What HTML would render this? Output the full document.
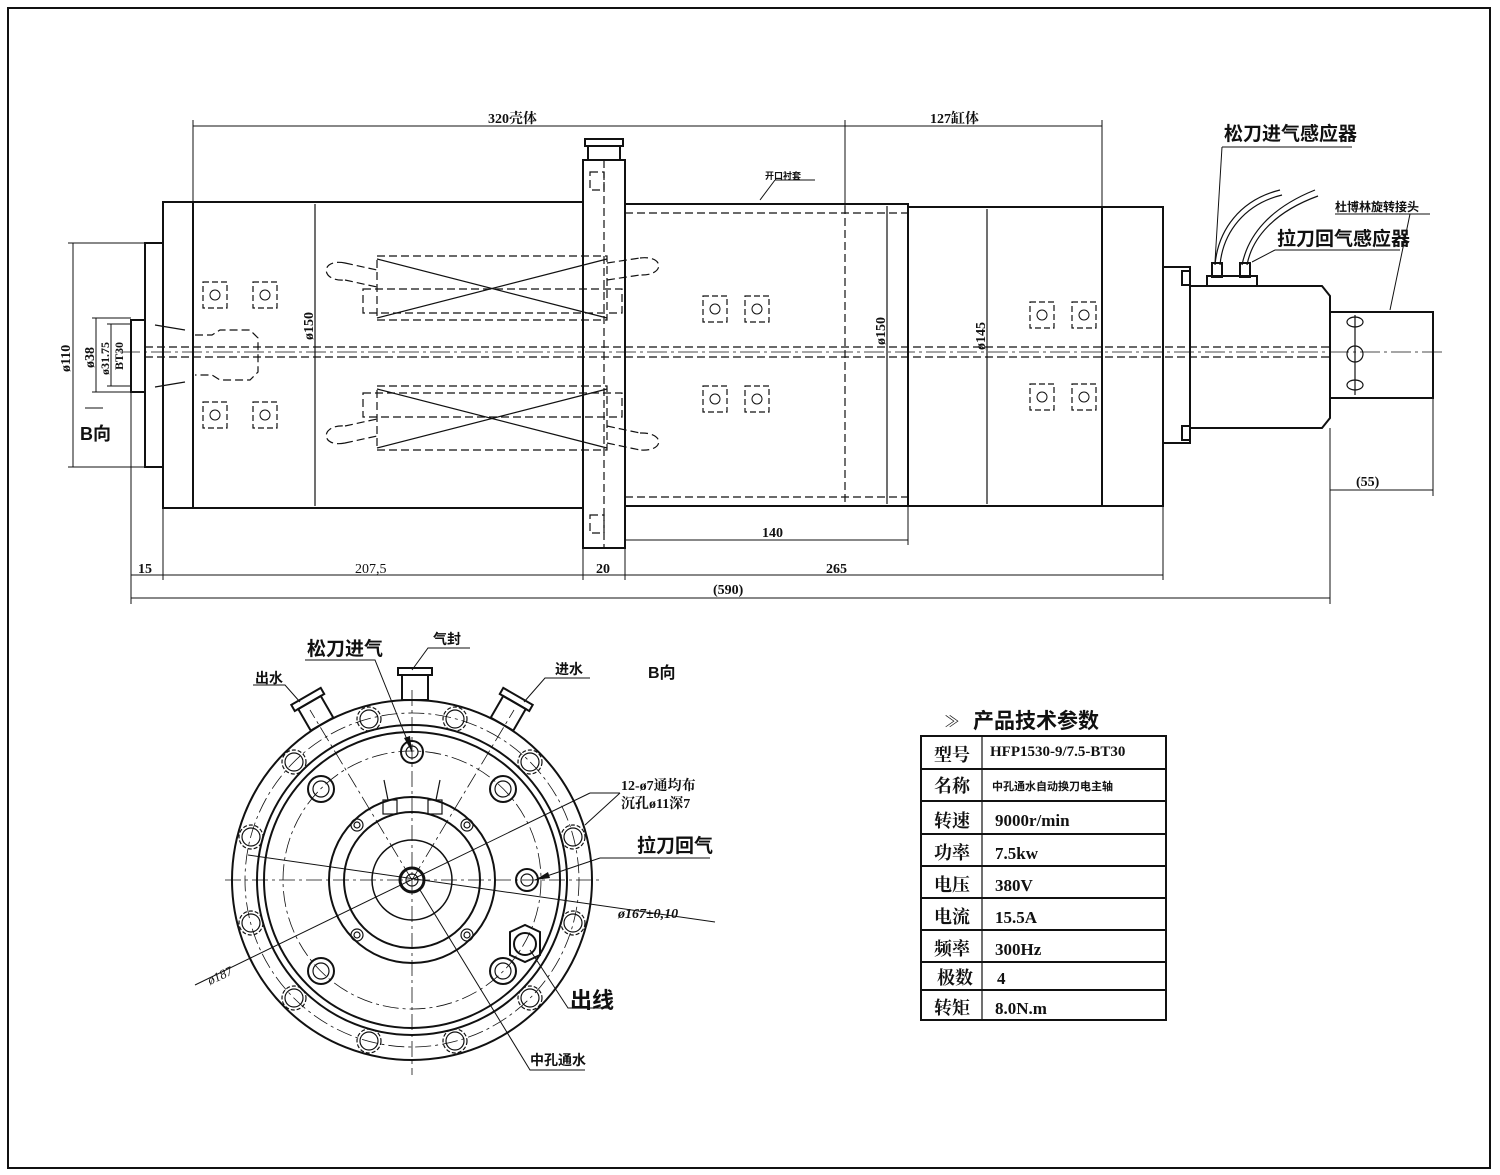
<!DOCTYPE html>
<html><head><meta charset="utf-8"><style>
html,body{margin:0;padding:0;background:#fff}
svg{display:block}
text{font-family:"Liberation Serif","Noto Serif CJK SC",serif;fill:#111}
.s{font-family:"Liberation Sans","Noto Sans CJK SC",sans-serif;font-weight:bold}
.d{font-weight:bold}
</style></head><body>
<svg width="1500" height="1175" viewBox="0 0 1500 1175" xmlns="http://www.w3.org/2000/svg" fill="none" stroke="#111">
<rect x="8" y="8" width="1482" height="1160" stroke-width="2"/>

<!-- ===== MAIN VIEW ===== -->
<g stroke-width="2">
<rect x="131" y="320" width="14" height="72"/>
<rect x="145" y="243" width="18" height="224"/>
<rect x="163" y="202" width="420" height="306"/>
<line x1="193" y1="202" x2="193" y2="508"/>
<rect x="583" y="160" width="42" height="388"/>
<rect x="588" y="146" width="32" height="14"/>
<rect x="585" y="139" width="38" height="7"/>
<rect x="625" y="204" width="283" height="302"/>
<rect x="908" y="207" width="255" height="299"/>
<line x1="1102" y1="207" x2="1102" y2="506"/>
<rect x="1163" y="267" width="27" height="176"/>
<rect x="1182" y="271" width="8" height="14"/>
<rect x="1182" y="426" width="8" height="14"/>
<path d="M1190 286 H1322 L1330 296 V418 L1322 428 H1190 Z"/>
<rect x="1330" y="312" width="103" height="86"/>
<rect x="1207" y="276" width="50" height="10"/>
<rect x="1212" y="263" width="10" height="14"/><rect x="1240" y="263" width="10" height="14"/>
</g>
<g stroke-width="1.2">
<line x1="315" y1="204" x2="315" y2="506"/>
<line x1="887" y1="206" x2="887" y2="504"/>
<line x1="987" y1="209" x2="987" y2="504"/>
<line x1="1355" y1="315" x2="1355" y2="395"/>
<ellipse cx="1355" cy="322" rx="8" ry="5"/><ellipse cx="1355" cy="385" rx="8" ry="5"/><circle cx="1355" cy="354" r="8"/>
<path d="M1215 265 C1218 230 1240 200 1280 190"/><path d="M1220 265 C1223 232 1245 204 1282 195"/>
<path d="M1242 265 C1248 235 1270 208 1315 190"/><path d="M1247 265 C1252 238 1274 212 1318 196"/>
</g>
<g stroke-width="1.2" stroke-dasharray="8 4">
<line x1="625" y1="213" x2="908" y2="213"/><line x1="625" y1="497" x2="908" y2="497"/>
<line x1="845" y1="206" x2="845" y2="506"/>
<line x1="604" y1="160" x2="604" y2="548"/>
<line x1="145" y1="347" x2="1330" y2="347"/><line x1="145" y1="357" x2="1330" y2="357"/>
<rect x="377" y="256" width="230" height="64"/><rect x="363" y="289" width="259" height="24"/>
<rect x="377" y="386" width="230" height="64"/><rect x="363" y="393" width="259" height="24"/>
<path d="M345 263 L377 270 M345 280 L377 287 M345 263 C320 258 320 282 345 280"/>
<path d="M345 426 L377 419 M345 443 L377 436 M345 443 C320 448 320 424 345 426"/>
<path d="M607 263 L640 258 M607 280 L640 275 M640 258 C665 255 665 276 640 275"/>
<path d="M607 426 L640 433 M607 443 L640 450 M640 433 C665 432 665 452 640 450"/>
<path d="M195 335 H212 L220 330 H250 L258 338 V372 L250 380 H220 L212 375 H195"/>
<rect x="590" y="172" width="14" height="18"/><rect x="590" y="515" width="14" height="18"/>
</g>
<g stroke-width="1.2">
<path d="M377 259 L607 318 M377 318 L607 259 M377 389 L607 448 M377 448 L607 389"/>
<path d="M155 325 L185 330 M155 387 L185 382"/>
</g>
<g stroke-width="1.2" stroke-dasharray="6 3">
<rect x="203" y="282" width="24" height="26"/><rect x="253" y="282" width="24" height="26"/>
<rect x="203" y="402" width="24" height="26"/><rect x="253" y="402" width="24" height="26"/>
<rect x="703" y="296" width="24" height="26"/><rect x="745" y="296" width="24" height="26"/>
<rect x="703" y="386" width="24" height="26"/><rect x="745" y="386" width="24" height="26"/>
<rect x="1030" y="302" width="24" height="26"/><rect x="1072" y="302" width="24" height="26"/>
<rect x="1030" y="384" width="24" height="26"/><rect x="1072" y="384" width="24" height="26"/>
</g>
<g stroke-width="1"><circle cx="215" cy="295" r="5"/><circle cx="265" cy="295" r="5"/><circle cx="215" cy="415" r="5"/><circle cx="265" cy="415" r="5"/>
<circle cx="715" cy="309" r="5"/><circle cx="757" cy="309" r="5"/><circle cx="715" cy="399" r="5"/><circle cx="757" cy="399" r="5"/>
<circle cx="1042" cy="315" r="5"/><circle cx="1084" cy="315" r="5"/><circle cx="1042" cy="397" r="5"/><circle cx="1084" cy="397" r="5"/></g>
<line x1="120" y1="352" x2="1445" y2="352" stroke-width="0.8" stroke-dasharray="20 4 3 4"/>

<g stroke-width="1">
<line x1="193" y1="126" x2="1102" y2="126"/>
<line x1="193" y1="120" x2="193" y2="202"/><line x1="845" y1="120" x2="845" y2="206"/><line x1="1102" y1="120" x2="1102" y2="207"/>
<line x1="131" y1="392" x2="131" y2="604"/><line x1="163" y1="508" x2="163" y2="580"/><line x1="583" y1="548" x2="583" y2="580"/><line x1="625" y1="548" x2="625" y2="580"/><line x1="1163" y1="506" x2="1163" y2="580"/><line x1="1330" y1="428" x2="1330" y2="604"/><line x1="1433" y1="398" x2="1433" y2="496"/>
<line x1="131" y1="575" x2="1163" y2="575"/>
<line x1="131" y1="598" x2="1330" y2="598"/>
<line x1="625" y1="540" x2="908" y2="540"/><line x1="908" y1="506" x2="908" y2="545"/>
<line x1="1330" y1="490" x2="1433" y2="490"/>
<line x1="73" y1="243" x2="73" y2="467"/><line x1="68" y1="243" x2="145" y2="243"/><line x1="68" y1="467" x2="145" y2="467"/>
<line x1="96" y1="318" x2="96" y2="392"/><line x1="92" y1="318" x2="131" y2="318"/><line x1="92" y1="392" x2="131" y2="392"/>
<line x1="111" y1="324" x2="111" y2="386"/><line x1="107" y1="324" x2="131" y2="324"/><line x1="107" y1="386" x2="131" y2="386"/>
<line x1="85" y1="408" x2="103" y2="408"/>
<line x1="760" y1="200" x2="775" y2="180"/><line x1="775" y1="180" x2="815" y2="180"/>
<path d="M1222 147 H1352 M1222 147 L1215 262"/>
<path d="M1275 250 H1400 M1275 250 L1252 262"/>
<path d="M1335 214 H1430 M1410 214 L1390 310"/>
</g>
<g stroke="none" font-size="14" class="d">
<text x="488" y="123">320壳体</text>
<text x="930" y="123">127缸体</text>
<text x="138" y="573">15</text><text x="355" y="573" fill="#666" font-weight="normal">207,5</text>
<text x="596" y="573">20</text><text x="826" y="573">265</text>
<text x="762" y="537">140</text><text x="713" y="594">(590)</text><text x="1356" y="486">(55)</text>
<text x="765" y="179" font-size="9" class="s">开口衬套</text>
<text transform="translate(313,340) rotate(-90)">ø150</text>
<text transform="translate(885,345) rotate(-90)">ø150</text>
<text transform="translate(985,350) rotate(-90)">ø145</text>
<text transform="translate(70,372) rotate(-90)">ø110</text>
<text transform="translate(94,368) rotate(-90)">ø38</text>
<text transform="translate(109,375) rotate(-90)" font-size="12">ø31.75</text>
<text transform="translate(123,370) rotate(-90)" font-size="12">BT30</text>
<text x="80" y="440" font-size="18" class="s">B向</text>
<text x="1224" y="140" font-size="19" class="s">松刀进气感应器</text>
<text x="1277" y="245" font-size="19" class="s">拉刀回气感应器</text>
<text x="1335" y="211" font-size="12" class="s">杜博林旋转接头</text>
</g>

<!-- ===== B VIEW ===== -->
<g stroke-width="2">
<circle cx="412" cy="880" r="180"/>
<circle cx="412" cy="880" r="155"/>
<circle cx="412" cy="880" r="148"/>
<circle cx="412" cy="880" r="83"/>
<circle cx="412" cy="880" r="68"/>
<circle cx="412" cy="880" r="40" stroke-width="1.5"/>
<circle cx="412" cy="880" r="12" stroke-width="3"/>
<rect x="402" y="675" width="26" height="25"/><rect x="398" y="668" width="34" height="7"/>
<g transform="rotate(-30 412 880)"><rect x="399" y="675" width="26" height="25"/><rect x="395" y="668" width="34" height="7"/></g>
<g transform="rotate(30 412 880)"><rect x="399" y="675" width="26" height="25"/><rect x="395" y="668" width="34" height="7"/></g>
<polygon points="510,932 525,925 540,932 540,955 525,962 510,955"/>
<circle cx="525" cy="944" r="11"/>
<circle cx="412" cy="752" r="11"/><circle cx="527" cy="880" r="11"/>
</g>
<g stroke-width="1.2">
<circle cx="412" cy="752" r="6"/><circle cx="527" cy="880" r="6"/><circle cx="412" cy="880" r="6"/>
<rect x="383" y="800" width="14" height="14"/><rect x="428" y="800" width="14" height="14"/>
<line x1="388" y1="800" x2="384" y2="780"/><line x1="436" y1="800" x2="440" y2="780"/>
<g>
<circle cx="455" cy="719" r="9"/><circle cx="530" cy="762" r="9"/><circle cx="573" cy="837" r="9"/><circle cx="573" cy="923" r="9"/>
<circle cx="530" cy="998" r="9"/><circle cx="455" cy="1041" r="9"/><circle cx="369" cy="1041" r="9"/><circle cx="294" cy="998" r="9"/>
<circle cx="251" cy="923" r="9"/><circle cx="251" cy="837" r="9"/><circle cx="294" cy="762" r="9"/><circle cx="369" cy="719" r="9"/>
</g>
<g stroke-dasharray="4 2">
<circle cx="455" cy="719" r="12"/><circle cx="530" cy="762" r="12"/><circle cx="573" cy="837" r="12"/><circle cx="573" cy="923" r="12"/>
<circle cx="530" cy="998" r="12"/><circle cx="455" cy="1041" r="12"/><circle cx="369" cy="1041" r="12"/><circle cx="294" cy="998" r="12"/>
<circle cx="251" cy="923" r="12"/><circle cx="251" cy="837" r="12"/><circle cx="294" cy="762" r="12"/><circle cx="369" cy="719" r="12"/>
</g>
<circle cx="321" cy="789" r="8"/><circle cx="503" cy="789" r="8"/><circle cx="321" cy="971" r="8"/><circle cx="503" cy="971" r="8"/>
<circle cx="321" cy="789" r="13" stroke-width="2"/><circle cx="503" cy="789" r="13" stroke-width="2"/><circle cx="321" cy="971" r="13" stroke-width="2"/><circle cx="503" cy="971" r="13" stroke-width="2"/>
<circle cx="357" cy="825" r="6"/><circle cx="467" cy="825" r="6"/><circle cx="357" cy="935" r="6"/><circle cx="467" cy="935" r="6"/>
<circle cx="357" cy="825" r="3"/><circle cx="467" cy="825" r="3"/><circle cx="357" cy="935" r="3"/><circle cx="467" cy="935" r="3"/>
</g>
<g stroke-width="0.8" stroke-dasharray="16 4 3 4">
<circle cx="412" cy="880" r="167"/>
<circle cx="412" cy="880" r="129"/>
<line x1="225" y1="880" x2="600" y2="880"/>
<line x1="412" y1="690" x2="412" y2="1075"/>
<line x1="412" y1="880" x2="310" y2="710"/><line x1="412" y1="880" x2="514" y2="710"/>
</g>
<g stroke-width="1">
<line x1="248" y1="855" x2="715" y2="922"/>
<line x1="195" y1="985" x2="590" y2="793"/><line x1="590" y1="793" x2="620" y2="793"/>
<line x1="620" y1="793" x2="585" y2="825"/>
<line x1="535" y1="880" x2="600" y2="858"/><line x1="600" y1="858" x2="710" y2="858"/>
<path d="M412 752 L375 660 H305"/>
<path d="M412 670 L428 648 H470"/>
<path d="M300 702 L285 685 H253"/>
<path d="M524 702 L545 678 H590"/>
<path d="M530 950 L568 1008 H612"/>
<path d="M420 890 L530 1070 H585"/>
</g>
<g fill="#111" stroke="none">
<polygon points="412,752 404,738 410,736"/>
<polygon points="535,880 548,872 550,878"/>
</g>
<g stroke="none">
<text x="307" y="655" font-size="19" class="s">松刀进气</text>
<text x="433" y="644" font-size="14" class="s">气封</text>
<text x="255" y="683" font-size="14" class="s">出水</text>
<text x="555" y="674" font-size="14" class="s">进水</text>
<text x="648" y="678" font-size="16" class="s">B向</text>
<text x="621" y="790" font-size="14" class="d">12-ø7通均布</text>
<text x="621" y="808" font-size="14" class="d">沉孔ø11深7</text>
<text x="637" y="852" font-size="19" class="s">拉刀回气</text>
<text x="618" y="918" font-size="14" font-style="italic" class="d">ø167±0,10</text>
<text transform="translate(210,985) rotate(-25)" font-size="13" font-style="italic">ø187</text>
<text x="570" y="1008" font-size="22" class="s">出线</text>
<text x="530" y="1065" font-size="14" class="s">中孔通水</text>
</g>

<!-- ===== TABLE ===== -->
<g stroke-width="2">
<rect x="921" y="736" width="245" height="284"/>
<line x1="982" y1="736" x2="982" y2="1020" stroke-width="1.2"/>
<line x1="921" y1="769" x2="1166" y2="769"/><line x1="921" y1="801" x2="1166" y2="801"/>
<line x1="921" y1="834" x2="1166" y2="834"/><line x1="921" y1="866" x2="1166" y2="866"/>
<line x1="921" y1="898" x2="1166" y2="898"/><line x1="921" y1="930" x2="1166" y2="930"/>
<line x1="921" y1="962" x2="1166" y2="962"/><line x1="921" y1="990" x2="1166" y2="990"/>
</g>
<g stroke="none">
<text x="944" y="727" font-size="16">≫</text>
<text x="973" y="728" font-size="21" class="s">产品技术参数</text>
<g font-size="18" class="d">
<text x="934" y="761">型号</text><text x="934" y="792">名称</text><text x="934" y="827">转速</text>
<text x="934" y="859">功率</text><text x="934" y="891">电压</text><text x="934" y="923">电流</text>
<text x="934" y="955">频率</text><text x="937" y="984">极数</text><text x="934" y="1014">转矩</text>
</g>
<text x="990" y="756" font-size="15" class="d">HFP1530-9/7.5-BT30</text>
<text x="992" y="790" font-size="11" class="s">中孔通水自动换刀电主轴</text>
<g font-size="17" class="d">
<text x="995" y="826">9000r/min</text><text x="995" y="859">7.5kw</text><text x="995" y="891">380V</text>
<text x="995" y="923">15.5A</text><text x="995" y="955">300Hz</text><text x="997" y="984">4</text><text x="995" y="1014">8.0N.m</text>
</g>
</g>
</svg>
</body></html>
